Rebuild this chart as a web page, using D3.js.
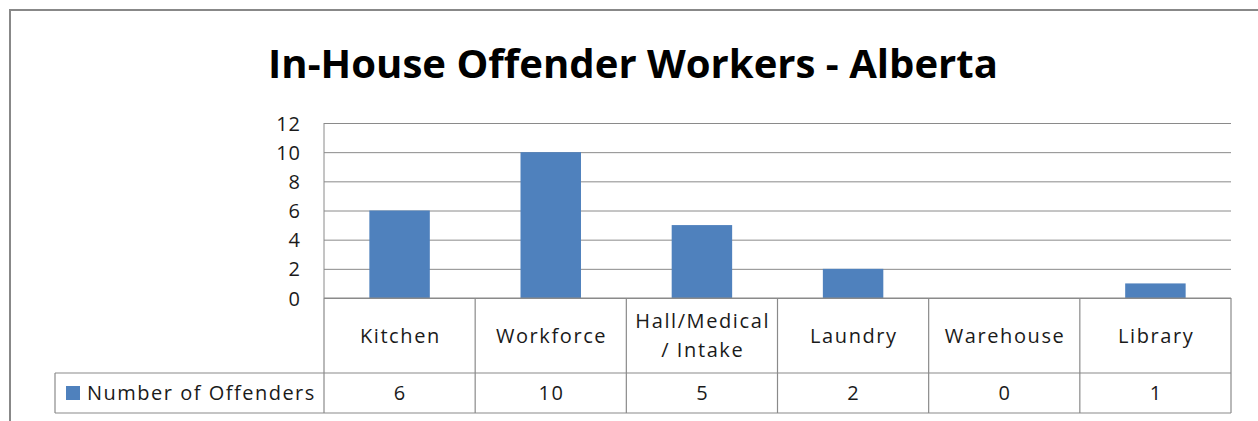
<!DOCTYPE html>
<html lang="en">
<head>
<meta charset="UTF-8">
<title>In-House Offender Workers - Alberta</title>
<script src="https://d3js.org/d3.v7.min.js"></script>
<style>
  html, body { margin: 0; padding: 0; background: #fff; }
  #vis { width: 1258px; height: 421px; }
  text { font-family: "Open Sans", "Noto Sans", sans-serif; fill: #1a1a1a; }
</style>
</head>
<body>
<div id="vis"></div>
<script>
var title = 'In-House Offender Workers - Alberta';
var categories = ['Kitchen', 'Workforce', 'Hall/Medical\n/ Intake', 'Laundry', 'Warehouse', 'Library'];
var offenders = [6, 10, 5, 2, 0, 1];
var seriesName = 'Number of Offenders';
var yTicks = [0, 2, 4, 6, 8, 10, 12];

var W = 1258, H = 421;
var plot = { left: 324, right: 1231, top: 123, bottom: 298 };
var rowMid = 373, rowEnd = 413, legendLeft = 55;
var gridCol = '#8a8a8a';

var svg = d3.select('#vis').append('svg')
    .attr('width', W)
    .attr('height', H);

// chart frame
svg.append('rect')
    .attr('x', 10).attr('y', 10)
    .attr('width', W + 10).attr('height', H + 10)
    .attr('fill', 'none')
    .attr('stroke', '#888')
    .attr('stroke-width', 2);

var titleText = svg.append('text')
    .attr('x', 633).attr('y', 78)
    .attr('text-anchor', 'middle')
    .style('font-weight', 'bold')
    .style('font-size', '36px')
    .style('fill', '#000')
    .text(title);
// fit to the reference width
var tw = titleText.node().getComputedTextLength();
titleText.style('font-size', (36 * 730 / tw) + 'px');

var x = d3.scaleBand()
    .domain(categories)
    .range([plot.left, plot.right])
    .paddingInner(0.6)
    .paddingOuter(0.3);

var cols = d3.scaleBand()
    .domain(categories)
    .range([plot.left, plot.right]);

var y = d3.scaleLinear()
    .domain([0, 12])
    .range([plot.bottom, plot.top]);

// gridlines
svg.append('g')
    .attr('transform', 'translate(' + plot.left + ',0)')
    .call(d3.axisLeft(y).tickValues(yTicks).tickSize(-(plot.right - plot.left)).tickFormat(''))
    .call(function(g) { g.select('.domain').remove(); })
    .selectAll('line')
    .attr('stroke', gridCol);

// y labels
var yAxis = svg.append('g')
    .attr('transform', 'translate(' + 301 + ',0)')
    .call(d3.axisLeft(y).tickValues(yTicks).tickSize(0).tickPadding(0));
yAxis.select('.domain').remove();
yAxis.selectAll('text')
    .style('font-size', '20px')
    .style('letter-spacing', '1px')
    .attr('dy', '0.35em');

// left plot border
svg.append('line')
    .attr('x1', plot.left).attr('x2', plot.left)
    .attr('y1', plot.top).attr('y2', plot.bottom)
    .attr('stroke', gridCol);

// bars
svg.selectAll('.bar')
    .data(offenders)
    .enter().append('rect')
    .attr('class', 'bar')
    .attr('x', function(d, i) { return x(categories[i]); })
    .attr('width', x.bandwidth())
    .attr('y', function(d) { return y(d); })
    .attr('height', function(d) { return y(0) - y(d); })
    .attr('fill', '#4f81bd');

// data table
var table = svg.append('g').attr('stroke', gridCol).attr('stroke-width', 1.2);
table.append('line').attr('x1', plot.left).attr('x2', plot.right).attr('y1', plot.bottom).attr('y2', plot.bottom);
table.append('line').attr('x1', legendLeft).attr('x2', plot.right).attr('y1', rowMid).attr('y2', rowMid);
table.append('line').attr('x1', legendLeft).attr('x2', plot.right).attr('y1', rowEnd).attr('y2', rowEnd);
table.append('line').attr('x1', legendLeft).attr('x2', legendLeft).attr('y1', rowMid).attr('y2', rowEnd);
table.selectAll('.div')
    .data(categories.concat(['end']))
    .enter().append('line')
    .attr('x1', function(d, i) { return i < categories.length ? cols(d) : plot.right; })
    .attr('x2', function(d, i) { return i < categories.length ? cols(d) : plot.right; })
    .attr('y1', plot.bottom)
    .attr('y2', rowEnd);

// category labels
svg.selectAll('.cat')
    .data(categories)
    .enter().append('text')
    .attr('class', 'cat')
    .attr('text-anchor', 'middle')
    .style('font-size', '20px')
    .style('letter-spacing', '1.6px')
    .each(function(d) {
        var lines = d.split('\n');
        var cx = cols(d) + cols.bandwidth() / 2 + 0.8;
        var y0 = (plot.bottom + rowMid) / 2 - (lines.length - 1) * 14.5;
        d3.select(this).selectAll('tspan')
            .data(lines)
            .enter().append('tspan')
            .attr('x', cx)
            .attr('y', function(l, j) { return y0 + j * 29; })
            .attr('dy', '0.35em')
            .text(function(l) { return l; });
    });

// values row
svg.selectAll('.val')
    .data(offenders)
    .enter().append('text')
    .attr('class', 'val')
    .attr('text-anchor', 'middle')
    .attr('x', function(d, i) { return cols(categories[i]) + cols.bandwidth() / 2 + 0.8; })
    .attr('y', (rowMid + rowEnd) / 2)
    .attr('dy', '0.35em')
    .style('font-size', '20px')
    .style('letter-spacing', '1.6px')
    .text(function(d) { return d; });

// legend key
svg.append('rect')
    .attr('x', 66).attr('y', 386)
    .attr('width', 14).attr('height', 14)
    .attr('fill', '#4f81bd');
svg.append('text')
    .attr('x', 87).attr('y', (rowMid + rowEnd) / 2)
    .attr('dy', '0.35em')
    .style('font-size', '20px')
    .style('letter-spacing', '1.5px')
    .text(seriesName);
</script>
</body>
</html>
